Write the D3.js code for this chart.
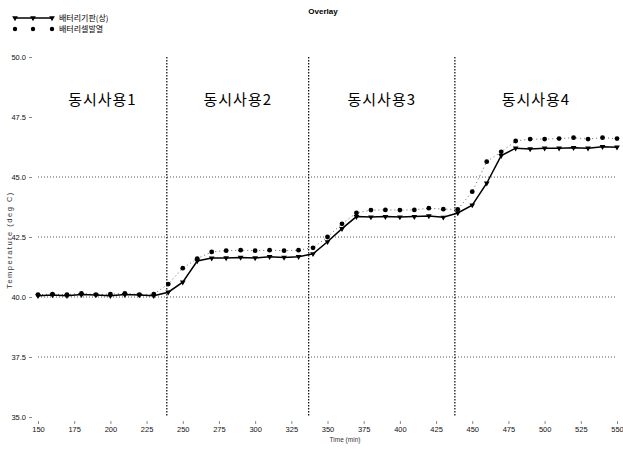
<!DOCTYPE html>
<html><head><meta charset="utf-8">
<script src="https://cdn.jsdelivr.net/npm/d3@7"></script>
<style>
body{margin:0;background:#fff;}
svg{display:block;}
</style></head>
<body>
<svg id="c" width="623" height="450"></svg>
<script>
const titleText = "Overlay";
const seriesNames = ["배터리기판(상)", "배터리셀발열"];
const timeValues = [150,160,170,180,190,200,210,220,230,240,250,260,270,280,290,300,310,320,330,340,350,360,370,380,390,400,410,420,430,440,450,460,470,480,490,500,510,520,530,540,550];
const series1 = [40.05,40.08,40.05,40.1,40.08,40.05,40.1,40.08,40.05,40.2,40.62,41.5,41.62,41.63,41.65,41.63,41.68,41.65,41.68,41.8,42.3,42.85,43.35,43.33,43.35,43.33,43.35,43.38,43.32,43.5,43.83,44.74,45.89,46.2,46.17,46.2,46.2,46.22,46.2,46.26,46.24];
const series2 = [40.1,40.12,40.1,40.15,40.1,40.12,40.15,40.1,40.12,40.54,41.2,41.6,41.88,41.93,41.95,41.93,41.95,41.93,41.95,42.05,42.5,43.05,43.5,43.62,43.63,43.62,43.63,43.7,43.66,43.65,44.39,45.64,46.05,46.5,46.58,46.58,46.6,46.64,46.58,46.64,46.6];
const xTicks = [150,175,200,225,250,275,300,325,350,375,400,425,450,475,500,525,550];
const yTicks = [35.0,37.5,40.0,42.5,45.0,47.5,50.0];
const gridValues = [37.5,40.0,42.5,45.0];
const phaseBounds = [239,337,438];
const phaseLabels = ["동시사용1","동시사용2","동시사용3","동시사용4"];
const xLabel = "Time (min)";
const yLabel = "Temperature (deg C)";

const svg = d3.select("#c");
const x = d3.scaleLinear().domain([150,550]).range([38,617]);
const y = d3.scaleLinear().domain([35,50]).range([417,57]);

svg.append("text").attr("x",323).attr("y",14).attr("text-anchor","middle")
  .attr("font-family","Arial, Liberation Sans, sans-serif").attr("font-size",8).attr("font-weight","bold").text(titleText);

svg.append("g").selectAll("line").data(gridValues).join("line")
  .attr("x1",x(150)).attr("x2",x(550)).attr("y1",d=>y(d)).attr("y2",d=>y(d))
  .attr("stroke","#555").attr("stroke-width",1).attr("stroke-dasharray","1,2");

svg.append("g").selectAll("line").data(phaseBounds).join("line")
  .attr("x1",d=>x(d)).attr("x2",d=>x(d)).attr("y1",y(50)).attr("y2",y(35))
  .attr("stroke","#000").attr("stroke-width",1.2).attr("stroke-dasharray","1.5,1.5");

const edges = [150, ...phaseBounds, 550];
svg.append("g").selectAll("text").data(phaseLabels).join("text")
  .attr("x",(d,i)=>(x(edges[i])+x(edges[i+1]))/2).attr("y",105)
  .attr("text-anchor","middle").attr("font-family","Noto Sans CJK KR, sans-serif")
  .attr("font-size",15).attr("letter-spacing",1).text(d=>d);

const xAxis = d3.axisBottom(x).tickValues(xTicks).tickSize(3).tickFormat(d3.format("d"));
const gx = svg.append("g").attr("transform",`translate(0,${y(35)+4})`).call(xAxis);
gx.select(".domain").remove();
gx.selectAll("line").attr("stroke","#888");
gx.selectAll("text").attr("font-family","Arial, Liberation Sans, sans-serif").attr("font-size",7.5).attr("fill","#111");

const yAxis = d3.axisLeft(y).tickValues(yTicks).tickSize(3).tickFormat(d3.format(".1f"));
const gy = svg.append("g").attr("transform",`translate(32,0)`).call(yAxis);
gy.select(".domain").remove();
gy.selectAll("line").attr("stroke","#888");
gy.selectAll("text").attr("font-family","Arial, Liberation Sans, sans-serif").attr("font-size",7.5).attr("fill","#111");

svg.append("text").attr("x",345).attr("y",442).attr("text-anchor","middle")
  .attr("font-family","Arial, Liberation Sans, sans-serif").attr("font-size",6.5).attr("fill","#333").text(xLabel);
svg.append("text").attr("transform","translate(12,240) rotate(-90)").attr("text-anchor","middle")
  .attr("font-family","Arial, Liberation Sans, sans-serif").attr("font-size",7.5).attr("letter-spacing",1.5).attr("fill","#333").text(yLabel);

const d1 = timeValues.map((t,i)=>({t,v:series1[i]}));
const d2 = timeValues.map((t,i)=>({t,v:series2[i]}));
const line = d3.line().x(d=>x(d.t)).y(d=>y(d.v));

svg.append("path").datum(d2).attr("d",line).attr("fill","none")
  .attr("stroke","#666").attr("stroke-width",1).attr("stroke-dasharray","1,3");
svg.append("path").datum(d1).attr("d",line).attr("fill","none")
  .attr("stroke","#000").attr("stroke-width",1.5);

const tri = d3.symbol().type(d3.symbolTriangle).size(14);
svg.append("g").selectAll("path").data(d1).join("path")
  .attr("d",tri).attr("transform",d=>`translate(${x(d.t)},${y(d.v)}) rotate(180)`).attr("fill","#000");
svg.append("g").selectAll("circle").data(d2).join("circle")
  .attr("cx",d=>x(d.t)).attr("cy",d=>y(d.v)).attr("r",2.4).attr("fill","#000");

const lg = svg.append("g");
lg.append("line").attr("x1",15).attr("x2",52).attr("y1",18).attr("y2",18).attr("stroke","#000").attr("stroke-width",1.4);
[15,33,52].forEach(px=>{
  lg.append("path").attr("d",tri).attr("transform",`translate(${px},18) rotate(180)`).attr("fill","#000");
  lg.append("circle").attr("cx",px).attr("cy",29).attr("r",2.2).attr("fill","#000");
});
lg.append("text").attr("x",59).attr("y",21).attr("font-family","Noto Sans CJK KR, sans-serif").attr("font-size",8).text(seriesNames[0]);
lg.append("text").attr("x",59).attr("y",32).attr("font-family","Noto Sans CJK KR, sans-serif").attr("font-size",8).text(seriesNames[1]);
</script>
</body></html>
